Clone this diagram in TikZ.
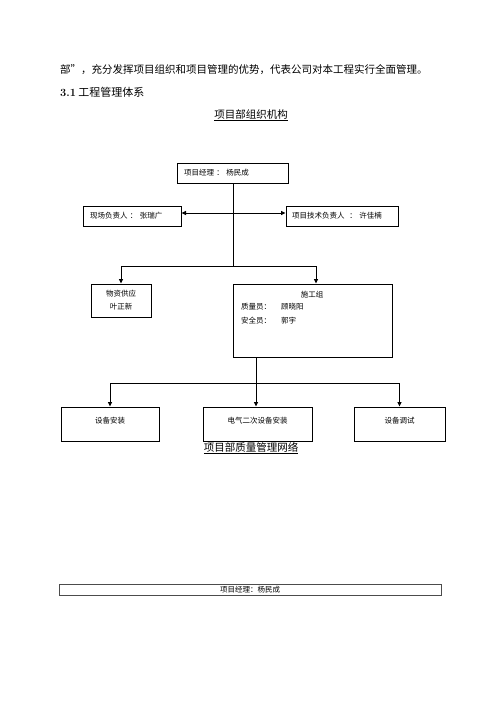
\documentclass[tikz,border=0pt]{standalone}
\usepackage{fontspec}
\newfontfamily\cjk{Noto Sans CJK SC}
\usetikzlibrary{arrows.meta}
\usetikzlibrary{positioning}

\begin{document}
\begin{tikzpicture}[x=1pt, y=-1pt,
  % 方框的样式
  box/.style={draw=black, line width=1pt, fill=white, font=\fontsize{7.5}{13}\selectfont\cjk, inner sep=1pt},
  % 文字靠左的方框
  leftbox/.style={box, minimum height=20, inner xsep=7pt, align=left},
  % 底部三个方框：文字靠上
  lowbox/.style={box, minimum height=34, text height=6.5pt, text depth=8.5pt},
  % 正文与标题
  body/.style={font=\fontsize{10.5}{12}\selectfont\cjk, anchor=west, inner sep=0pt},
  title/.style={font=\fontsize{10.5}{12}\selectfont\cjk, inner sep=0pt},
  small/.style={font=\fontsize{7.5}{9}\selectfont\cjk, inner sep=0pt},
  % 连线与箭头
  link/.style={draw=black, line width=1pt},
  tip/.style={-{Triangle[length=4.5pt,width=4pt]}}
]
\useasboundingbox[fill=white] (0,0) rectangle (500,707);

% 正文
\node[body] (hang1) at (60,70) {部”，充分发挥项目组织和项目管理的优势，代表公司对本工程实行全面管理。};
\node[body] (hang2) at (60,92) {{\normalfont\fontsize{11}{12}\selectfont\bfseries 3.1}\ \fontsize{11}{12}\selectfont 工程管理体系};
\node[title] (bt1) at (251,115) {\underline{项目部组织机构}};

% 组织机构的方框
\node[leftbox, text width=97, inner xsep=7pt] (xmjl) at (232.5,173) {项目经理\ ：\ 杨民成};
\node[leftbox, text width=84, inner xsep=7pt] (xcfz) at (132,216) {现场负责人\ ：\ 张瑞广};
\node[leftbox, text width=100, inner xsep=6pt] (jsfz) at (342,216) {项目技术负责人\ \ ：\ 许佳楠};
\node[box, minimum width=60, minimum height=33, align=center] (wzgy) at (121,300.5) {物资供应\\叶正新};
\node[box, minimum width=159, minimum height=73] (sgz) at (312.5,320.5) {};
\node[small] (sgzt) at (312,295) {施工组};
\node[small, anchor=west] (zly) at (241,307) {质量员：};
\node[small, anchor=west] (zlyx) at (281,307) {顾晓阳};
\node[small, anchor=west] (aqy) at (241,321) {安全员：};
\node[small, anchor=west] (aqyx) at (281,321) {郭宇};
\node[lowbox, minimum width=98] (sbaz) at (110,424) {设备安装};
\node[lowbox, minimum width=109] (dqaz) at (257.5,424) {电气二次设备安装};
\node[lowbox, minimum width=91] (sbts) at (399.5,424) {设备调试};

% 连线
\coordinate (hx) at (233,213);
\coordinate (fz1) at (233,266);
\coordinate (fz2) at (256,383);
\draw[link] (xmjl.south -| fz1) -- (fz1);
\draw[link, {Triangle[length=4.5pt,width=4pt]}-{Triangle[length=4.5pt,width=4pt]}] (xcfz.east |- hx) -- (jsfz.west |- hx);
\draw[link, tip] (fz1) -| (wzgy.north);
\draw[link, tip] (fz1) -| ([xshift=3.5pt]sgz.north);
\draw[link] (sgz.south -| fz2) -- (fz2);
\draw[link, tip] (fz2) -| (sbaz.north);
\draw[link, tip] (fz2) -- (dqaz.north -| fz2);
\draw[link, tip] (fz2) -| (sbts.north);

% 质量管理网络
\node[title] (bt2) at (251,448) {\underline{项目部质量管理网络}};
\node[box, draw=black!70, line width=0.7pt, minimum width=382, minimum height=11, inner sep=0pt] (xmjl2) at (250,589.5) {项目经理：杨民成};

\end{tikzpicture}
\end{document}
